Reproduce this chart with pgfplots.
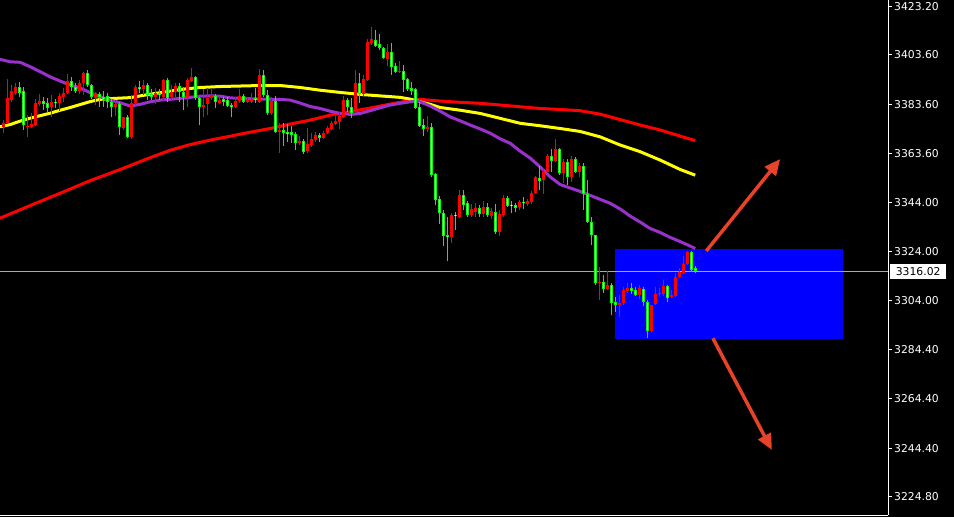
\documentclass[border=0pt]{standalone}
\usepackage{fontspec}
\newfontfamily\lblfont{DejaVu Sans}
\usepackage{pgfplots}
\usepackage{pgfplotstable}
\pgfplotsset{compat=1.18}
\usetikzlibrary{arrows.meta}

\definecolor{bull}{RGB}{255,0,0}
\definecolor{bear}{RGB}{0,255,0}
\definecolor{maPurple}{RGB}{153,50,204}
\definecolor{maYellow}{RGB}{255,255,0}
\definecolor{maRed}{RGB}{255,0,0}
\definecolor{zone}{RGB}{0,0,255}
\definecolor{bidline}{RGB}{170,170,170}
\definecolor{arrowred}{RGB}{232,66,40}

% rising candles (close above open)
\pgfplotstableread{
i o h l c
0 3374.4 3377.2 3371.9 3376.0
1 3376.0 3393.8 3375.6 3386.1
2 3385.3 3391.4 3384.5 3388.9
3 3388.1 3392.2 3387.3 3390.6
6 3374.4 3379.2 3370.3 3374.8
7 3374.4 3380.0 3374.0 3375.6
8 3375.2 3385.7 3374.8 3384.1
9 3383.7 3387.7 3382.9 3384.9
12 3382.5 3387.3 3378.4 3384.5
14 3384.1 3388.1 3380.8 3386.9
15 3386.5 3390.2 3384.5 3388.1
16 3388.1 3395.8 3387.7 3393.0
19 3388.9 3393.4 3387.7 3392.2
20 3392.2 3396.6 3387.3 3396.2
23 3386.1 3388.5 3383.3 3388.1
28 3382.5 3385.3 3378.8 3383.7
30 3374.0 3378.6 3373.2 3378.4
32 3370.3 3387.3 3369.5 3384.1
33 3384.1 3391.4 3383.3 3390.6
35 3389.8 3393.4 3387.3 3391.4
38 3386.5 3390.2 3383.7 3388.1
40 3386.5 3393.8 3384.9 3393.4
42 3386.5 3391.4 3385.3 3388.5
43 3388.5 3392.2 3386.5 3391.0
46 3386.5 3394.2 3382.5 3393.4
47 3393.0 3398.3 3392.6 3394.6
50 3382.5 3389.8 3378.4 3383.3
51 3383.7 3390.2 3379.2 3386.1
52 3386.1 3390.2 3385.3 3387.3
54 3384.1 3386.5 3383.7 3385.3
58 3382.5 3386.5 3382.1 3384.9
59 3384.9 3389.8 3384.1 3386.9
61 3384.5 3386.5 3384.1 3385.3
62 3384.5 3388.1 3384.1 3385.3
64 3384.5 3397.9 3384.3 3395.4
67 3380.0 3386.5 3379.2 3384.9
69 3372.3 3376.0 3363.8 3373.2
74 3367.9 3370.7 3367.1 3368.7
76 3364.6 3374.0 3363.8 3367.5
77 3367.1 3371.9 3366.3 3369.5
78 3369.1 3372.3 3368.3 3371.1
80 3369.9 3372.7 3369.7 3371.9
81 3371.9 3374.8 3371.5 3374.0
82 3373.6 3376.8 3373.2 3376.0
83 3375.6 3378.8 3375.2 3376.8
84 3376.4 3380.4 3373.6 3378.8
85 3378.4 3386.9 3378.2 3385.3
88 3381.2 3397.5 3380.4 3392.2
90 3387.7 3395.4 3386.5 3393.8
91 3393.4 3410.0 3393.0 3408.8
92 3408.4 3414.9 3407.6 3410.0
96 3401.9 3408.0 3399.1 3404.7
99 3396.6 3401.1 3396.2 3397.0
106 3373.6 3378.8 3372.3 3374.4
112 3329.8 3339.5 3327.4 3338.7
114 3337.9 3348.9 3337.5 3346.8
117 3338.7 3343.2 3337.9 3341.2
118 3339.9 3343.6 3337.9 3341.6
120 3339.1 3344.4 3337.9 3342.0
122 3338.3 3341.6 3337.1 3340.3
124 3331.8 3340.8 3330.2 3339.1
125 3338.7 3346.8 3337.9 3345.6
129 3342.0 3344.8 3340.8 3344.0
131 3343.2 3345.2 3342.4 3344.4
132 3344.0 3348.4 3343.2 3347.6
133 3347.6 3354.5 3347.2 3354.1
135 3352.9 3357.8 3347.2 3356.1
136 3356.1 3363.4 3355.7 3362.6
138 3360.6 3369.5 3360.2 3365.5
140 3355.7 3361.4 3351.7 3360.2
142 3354.1 3362.6 3352.1 3361.4
144 3356.1 3359.8 3354.1 3358.6
149 3311.2 3317.7 3304.3 3311.6
151 3308.8 3316.0 3308.4 3310.4
154 3302.3 3306.3 3297.4 3303.1
155 3303.1 3309.6 3302.3 3308.4
156 3307.9 3311.2 3307.1 3309.2
159 3306.3 3310.4 3304.7 3309.2
162 3291.7 3302.5 3291.3 3302.3
163 3302.7 3309.6 3302.3 3306.7
164 3306.7 3309.2 3305.5 3307.1
165 3306.7 3312.4 3305.9 3310.0
167 3305.5 3308.4 3305.1 3306.3
168 3305.9 3315.2 3305.5 3313.6
169 3313.6 3317.3 3313.2 3315.6
170 3315.2 3322.1 3314.8 3318.9
171 3318.9 3324.1 3318.5 3323.7
}\upbars

% falling candles (close below open)
\pgfplotstableread{
i o h l c
4 3390.6 3392.6 3386.5 3388.1
5 3388.9 3390.6 3373.2 3375.2
10 3384.9 3386.5 3381.2 3383.7
11 3384.1 3386.1 3380.4 3382.1
13 3384.5 3385.7 3382.1 3384.1
17 3393.0 3394.6 3388.9 3390.6
18 3390.6 3392.2 3388.1 3388.9
21 3396.2 3397.5 3390.6 3391.4
22 3391.4 3391.8 3385.7 3386.5
24 3387.7 3388.5 3382.5 3386.5
25 3386.5 3388.9 3382.5 3385.7
26 3386.9 3388.1 3382.1 3384.5
27 3384.5 3385.7 3378.4 3382.5
29 3383.7 3384.5 3371.1 3374.4
31 3378.4 3379.2 3369.9 3370.3
34 3390.6 3393.0 3388.1 3389.8
36 3391.4 3392.2 3385.3 3387.3
37 3387.7 3389.8 3385.3 3386.5
39 3388.1 3389.8 3385.3 3387.3
41 3393.4 3394.2 3384.5 3386.1
44 3391.0 3392.2 3384.5 3388.5
45 3388.5 3390.6 3381.2 3386.5
48 3394.6 3395.0 3385.3 3386.1
49 3386.1 3386.5 3375.2 3382.5
53 3386.9 3387.7 3382.1 3384.5
55 3385.7 3386.5 3382.9 3384.5
56 3385.3 3386.5 3382.5 3382.9
57 3383.3 3384.1 3378.4 3382.5
60 3386.9 3387.7 3384.1 3384.5
63 3386.1 3390.2 3384.1 3385.3
65 3395.4 3397.5 3386.5 3387.3
66 3387.3 3389.3 3379.2 3380.0
68 3384.9 3386.9 3371.9 3372.3
70 3373.2 3376.0 3366.7 3371.9
71 3372.3 3375.6 3368.3 3371.5
72 3372.3 3374.8 3367.9 3371.1
73 3371.5 3372.3 3365.0 3367.9
75 3368.7 3369.5 3363.4 3364.2
79 3371.1 3371.9 3368.3 3369.9
86 3385.3 3386.1 3380.4 3382.5
87 3382.5 3386.1 3378.0 3380.0
89 3392.2 3396.2 3384.1 3387.7
93 3409.6 3413.6 3406.8 3407.2
94 3408.0 3412.0 3405.6 3406.4
95 3406.4 3406.8 3401.9 3402.3
97 3404.7 3408.4 3395.4 3398.7
98 3399.1 3400.3 3396.2 3396.6
100 3397.0 3399.5 3388.5 3393.4
101 3393.8 3394.2 3388.9 3389.8
102 3390.2 3392.6 3387.3 3388.9
103 3389.8 3390.2 3381.7 3382.1
104 3382.5 3384.5 3374.4 3374.8
105 3375.2 3377.6 3370.7 3373.6
107 3374.4 3376.0 3354.1 3354.9
108 3355.3 3355.7 3342.8 3344.8
109 3345.2 3346.4 3335.1 3339.5
110 3339.5 3340.8 3326.2 3330.2
111 3330.6 3337.9 3320.1 3329.8
113 3338.7 3339.9 3332.7 3338.3
115 3346.8 3348.9 3340.8 3342.8
116 3343.6 3344.4 3337.9 3338.7
119 3341.6 3342.8 3337.9 3339.1
121 3342.0 3343.6 3337.9 3338.7
123 3339.9 3343.2 3331.0 3331.8
126 3345.6 3346.4 3342.0 3342.4
127 3342.8 3344.4 3339.5 3342.4
128 3342.8 3343.6 3339.9 3341.6
130 3344.0 3346.0 3341.2 3343.6
134 3353.7 3358.6 3348.9 3352.5
137 3362.6 3365.5 3356.1 3360.6
139 3365.5 3365.9 3354.9 3355.7
141 3360.2 3361.4 3350.9 3354.1
143 3361.4 3362.2 3355.7 3356.1
145 3358.6 3359.8 3340.8 3347.2
146 3347.2 3352.9 3335.7 3335.9
147 3335.9 3337.9 3326.6 3330.6
148 3330.6 3330.8 3310.4 3311.2
150 3311.6 3314.4 3307.1 3308.8
152 3310.4 3311.2 3298.2 3303.1
153 3303.5 3305.5 3299.4 3302.3
157 3309.2 3311.2 3306.7 3307.9
158 3308.4 3309.6 3305.9 3306.3
160 3308.8 3309.6 3301.9 3303.5
161 3303.5 3304.3 3288.9 3291.7
166 3310.0 3310.4 3303.5 3305.1
172 3323.7 3324.1 3315.6 3316.5
173 3317.3 3318.1 3315.2 3316.02
}\downbars

% a vertical stroke per candle, drawn as a quiver segment
\pgfplotsset{
  candle part/.style n args={2}{
    color=#1, line width=#2, line cap=butt, mark=none, forget plot, solid,
  },
}

\begin{document}
\begin{tikzpicture}
\fill[black] (0,-2bp) rectangle (954bp,515bp);
\begin{axis}[
  at={(0,0)}, anchor=south west,
  scale only axis, width=888bp, height=515bp,
  xmin=-0.875, xmax=221.125, ymin=3217.31, ymax=3425.83,
  axis x line*=bottom, axis y line*=right,
  axis line style={white, line width=1bp, -},
  xtick=\empty,
  ytick={3423.2,3403.6,3383.6,3363.6,3344,3324,3304,3284.4,3264.4,3244.4,3224.8},
  yticklabels={3423.20,3403.60,3383.60,3363.60,3344.00,3324.00,3304.00,3284.40,3264.40,3244.40,3224.80},
  tick align=outside, major tick length=4bp,
  tick style={white, line width=1bp},
  yticklabel style={font=\lblfont\fontsize{10.8bp}{12bp}\selectfont, text=white, inner sep=0pt, xshift=2bp},
]
% support / resistance zone
\addplot[draw=none, fill=zone] coordinates {(152.93,3288.6) (209.93,3288.6) (209.93,3325.0) (152.93,3325.0)} --cycle;
% last price line
\addplot[bidline, line width=1bp] coordinates {(-0.875,3316.02) (221.125,3316.02)};

% moving averages
\addplot[maRed, line width=3bp] coordinates {(-0.88,3337.5) (6.68,3342.6) (14.18,3347.6) (21.68,3352.7) (29.18,3357.2) (36.68,3362.0) (41.68,3365.0) (46.68,3367.3) (51.68,3369.1) (56.68,3370.7) (61.68,3372.3) (66.68,3373.8) (71.68,3375.6) (76.68,3377.2) (81.68,3379.2) (86.68,3380.6) (91.68,3382.1) (96.68,3383.7) (101.68,3385.1) (104.18,3385.6) (109.18,3384.9) (114.18,3384.4) (119.18,3384.0) (124.18,3383.3) (129.18,3382.6) (134.18,3381.9) (139.18,3381.5) (144.18,3381.0) (149.18,3379.6) (154.18,3377.4) (159.18,3375.2) (164.18,3373.2) (169.18,3370.7) (172.93,3368.9)};
\addplot[maYellow, line width=3bp] coordinates {(-0.88,3374.5) (1.68,3375.4) (4.18,3376.8) (6.68,3378.0) (9.18,3379.0) (11.68,3380.0) (14.18,3381.2) (16.68,3382.3) (19.18,3383.5) (21.68,3384.7) (24.18,3385.6) (26.68,3385.9) (29.18,3386.1) (31.68,3386.3) (34.18,3387.0) (36.68,3387.7) (39.18,3388.3) (41.68,3388.9) (44.18,3389.6) (46.68,3390.0) (49.18,3390.4) (54.18,3390.8) (59.18,3391.0) (64.18,3391.2) (69.18,3391.2) (71.68,3390.8) (74.18,3390.4) (79.18,3389.3) (84.18,3388.4) (89.18,3387.6) (94.18,3387.0) (99.18,3386.4) (101.68,3385.7) (104.18,3384.6) (106.68,3383.6) (109.18,3382.3) (114.18,3381.2) (119.18,3379.9) (124.18,3377.9) (129.18,3375.9) (134.18,3374.9) (139.18,3373.8) (144.18,3372.6) (149.18,3370.4) (154.18,3367.1) (159.18,3364.4) (164.18,3361.0) (169.18,3357.2) (172.93,3354.9)};
\addplot[maPurple, line width=3bp] coordinates {(-0.88,3401.8) (1.68,3400.8) (4.18,3400.6) (6.68,3398.8) (9.18,3396.8) (11.68,3394.7) (14.18,3393.0) (16.68,3391.4) (19.18,3390.2) (21.68,3388.3) (24.18,3386.6) (26.68,3385.3) (29.18,3384.2) (31.68,3382.9) (34.18,3383.6) (36.68,3384.6) (39.18,3385.3) (41.68,3385.6) (44.18,3386.0) (46.68,3386.4) (49.18,3386.9) (51.68,3387.0) (54.18,3386.9) (56.68,3386.2) (59.18,3386.0) (64.18,3385.7) (69.18,3385.6) (71.68,3385.3) (74.18,3384.1) (76.68,3382.7) (79.18,3381.9) (81.68,3380.8) (84.18,3379.9) (86.68,3379.5) (89.18,3379.9) (91.68,3381.0) (94.18,3382.2) (96.68,3383.3) (99.18,3384.0) (101.68,3384.6) (102.93,3384.9) (104.18,3384.6) (106.68,3382.9) (109.18,3380.8) (111.68,3378.5) (114.18,3376.9) (116.68,3375.2) (119.18,3373.6) (121.68,3371.9) (124.18,3369.6) (126.68,3367.8) (129.18,3364.6) (131.68,3361.8) (134.18,3358.2) (136.68,3354.2) (139.18,3351.1) (141.68,3349.7) (144.18,3348.3) (146.68,3346.7) (149.18,3345.1) (151.68,3343.5) (154.18,3341.2) (156.68,3338.3) (159.18,3335.9) (161.68,3333.3) (164.18,3331.7) (166.68,3329.7) (169.18,3328.0) (171.68,3326.2) (172.93,3325.2)};

% candle wicks
\addplot[candle part={bull}{1.2bp}, quiver={u=0, v=\thisrow{h}-\thisrow{l}}]
  table[x=i, y=l] {\upbars};
\addplot[candle part={bear}{1.2bp}, quiver={u=0, v=\thisrow{h}-\thisrow{l}}]
  table[x=i, y=l] {\downbars};
% candle bodies
\addplot[candle part={bull}{3bp}, quiver={u=0, v={max(\thisrow{c}-\thisrow{o},0.45)}}]
  table[x=i, y=o] {\upbars};
\addplot[candle part={bear}{3bp}, quiver={u=0, v={max(\thisrow{o}-\thisrow{c},0.45)}}]
  table[x=i, y=c] {\downbars};
\addplot[candle part={white}{1bp}, quiver={u=0, v={max(\thisrow{o}-\thisrow{c}-0.8,0.01)}}]
  table[x=i, y expr=\thisrow{c}+0.4] {\downbars};

% scenario arrows
\addplot[arrowred, line width=3.5bp, -{Triangle[length=16bp,width=14bp]}] coordinates {(175.68,3324.2) (194.18,3361.45)};
\addplot[arrowred, line width=3.5bp, -{Triangle[length=16bp,width=14bp]}] coordinates {(177.35,3288.85) (192.1,3243.6)};

\coordinate (bid) at (axis cs:221.125,3316.02);
\end{axis}
\node[fill=white, text=black, anchor=west, inner sep=0pt, minimum width=56bp, minimum height=15bp,
  font=\lblfont\fontsize{10.8bp}{12bp}\selectfont, xshift=2bp] at (bid) {3316.02};
\pgfresetboundingbox
\path[use as bounding box] (0,-2bp) rectangle (954bp,515bp);
\end{tikzpicture}
\end{document}
